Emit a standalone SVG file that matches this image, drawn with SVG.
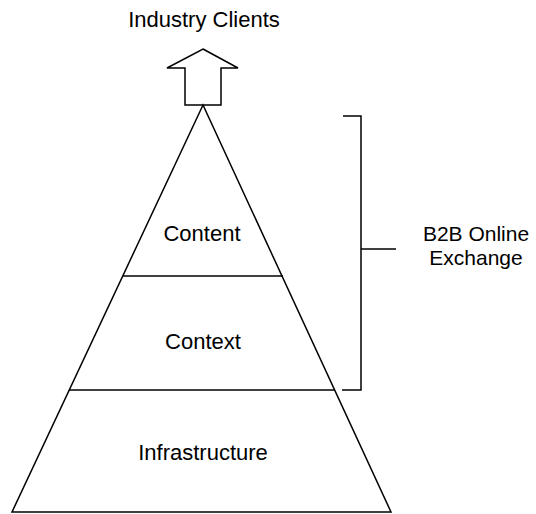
<svg xmlns="http://www.w3.org/2000/svg" width="536" height="514" viewBox="0 0 536 514">
<style>
.ln{fill:none;stroke:#000;stroke-width:1.5;stroke-linejoin:miter}
.tx{font-family:"Liberation Sans",Arial,sans-serif;font-size:22px;fill:#000;text-anchor:middle}
.sm{font-size:21px}
</style>
<rect width="536" height="514" fill="#fff"/>
<g id="pyramid">
<polygon class="ln" points="203,105 12,512 391,512"/>
</g>
<g id="content"><text class="tx" x="202" y="241">Content</text></g>
<g id="context"><text class="tx" x="203" y="349">Context</text></g>
<g id="infrastructure"><text class="tx" x="203" y="460">Infrastructure</text></g>
<g id="industry-clients">
<polygon class="ln" points="203,49 238,68 221,68 221,105 185,105 185,68 167,68"/>
<text class="tx" x="204" y="27">Industry Clients</text>
</g>
<g id="b2b">
<text class="tx sm" x="476" y="241">B2B Online</text>
<text class="tx sm" x="476" y="265">Exchange</text>
</g>
<g id="connectors">
<line class="ln" x1="123" y1="276" x2="283" y2="276"/>
<line class="ln" x1="69" y1="390" x2="335" y2="390"/>
<polyline class="ln" points="343,116 361,116 361,390 342,390"/>
<line class="ln" x1="361" y1="249" x2="396" y2="249"/>
</g>
</svg>
